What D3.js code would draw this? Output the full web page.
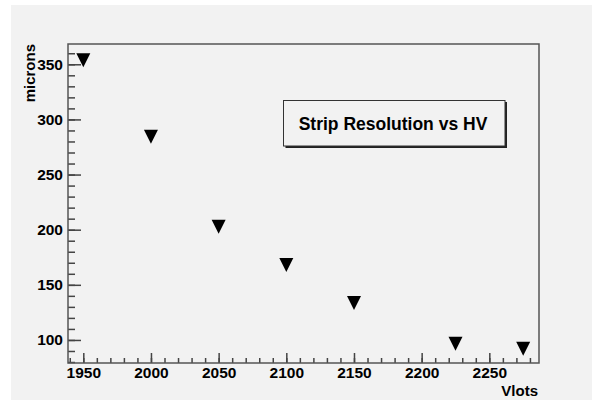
<!DOCTYPE html>
<meta charset="UTF-8">
<head>
<title>Strip Resolution vs HV</title>
<style>
body { margin: 0; background: #fff; }
text { font-family: "Liberation Sans", Arial, sans-serif; font-weight: bold; fill: #000; }
.axis line { stroke: #444; stroke-width: 1.5px; }
.axis path { display: none; }
</style>
</head>
<body>
<script src="https://d3js.org/d3.v7.min.js"></script>
<script>

// measured points (HV in volts, resolution in microns)
var voltages = [1950, 2000, 2050, 2100, 2150, 2225, 2275];
var resolution = [353.6, 284.3, 202.7, 168.0, 133.6, 96.6, 92.1];

var xTicks = [1950, 2000, 2050, 2100, 2150, 2200, 2250];
var yTicks = [100, 150, 200, 250, 300, 350];

var W = 594, H = 400;
var frame = {left: 68, right: 539, top: 44, bottom: 363};

var svg = d3.select("body").append("svg")
    .attr("width", W)
    .attr("height", H);

// canvas background
svg.append("rect")
    .attr("x", 11).attr("y", 5)
    .attr("width", 581).attr("height", 395)
    .attr("fill", "#f2f2f2");

var x = d3.scaleLinear().domain([1938.7, 2286.7]).range([frame.left, frame.right]);
var y = d3.scaleLinear().domain([79.1, 368.4]).range([frame.bottom, frame.top]);

// minor ticks
svg.append("g")
    .attr("class", "axis")
    .attr("transform", "translate(0," + frame.bottom + ")")
    .call(d3.axisBottom(x).tickValues(d3.range(1940, 2281, 10)).tickSize(-5).tickFormat(""));

svg.append("g")
    .attr("class", "axis")
    .attr("transform", "translate(" + frame.left + ",0)")
    .call(d3.axisLeft(y).tickValues(d3.range(80, 361, 10)).tickSize(-7).tickFormat(""));

// major ticks + labels
svg.append("g")
    .attr("class", "axis")
    .attr("transform", "translate(0," + frame.bottom + ")")
    .call(d3.axisBottom(x).tickValues(xTicks).tickSize(-10).tickPadding(4).tickFormat(d3.format("d")));

svg.append("g")
    .attr("class", "axis")
    .attr("transform", "translate(" + frame.left + ",0)")
    .call(d3.axisLeft(y).tickValues(yTicks).tickSize(-13).tickPadding(5).tickFormat(d3.format("d")));

svg.selectAll(".axis text")
    .style("font-size", "15.5px")
    .style("font-family", "'Liberation Sans', Arial, sans-serif")
    .style("font-weight", "bold")
    .attr("fill", "#000");

// frame
svg.append("rect")
    .attr("x", frame.left).attr("y", frame.top)
    .attr("width", frame.right - frame.left)
    .attr("height", frame.bottom - frame.top)
    .attr("fill", "none")
    .attr("stroke", "#555")
    .attr("stroke-width", 1.5);

// axis titles
svg.append("text")
    .attr("transform", "translate(35," + frame.top + ") rotate(-90)")
    .attr("text-anchor", "end")
    .style("font-size", "15px")
    .text("microns");

svg.append("text")
    .attr("x", 538)
    .attr("y", 396)
    .attr("text-anchor", "end")
    .style("font-size", "15px")
    .text("Vlots");

// markers: full downward triangles
var tri = "M-7,-7L7,-7L0,7Z";
svg.selectAll("path.marker")
    .data(voltages)
    .enter().append("path")
    .attr("class", "marker")
    .attr("d", tri)
    .attr("transform", function(d, i) {
        return "translate(" + x(d) + "," + y(resolution[i]) + ")";
    })
    .attr("fill", "#000");

// title box with shadow
svg.append("rect")
    .attr("x", 285.5).attr("y", 102)
    .attr("width", 221.5).attr("height", 46)
    .attr("fill", "#222");
svg.append("rect")
    .attr("x", 283.5).attr("y", 100.5)
    .attr("width", 221.5).attr("height", 45.5)
    .attr("fill", "#f2f2f2")
    .attr("stroke", "#333")
    .attr("stroke-width", 1);
svg.append("text")
    .attr("x", 393)
    .attr("y", 129.5)
    .attr("text-anchor", "middle")
    .style("font-size", "17.5px")
    .text("Strip Resolution vs HV");

</script>
</body>
</html>
